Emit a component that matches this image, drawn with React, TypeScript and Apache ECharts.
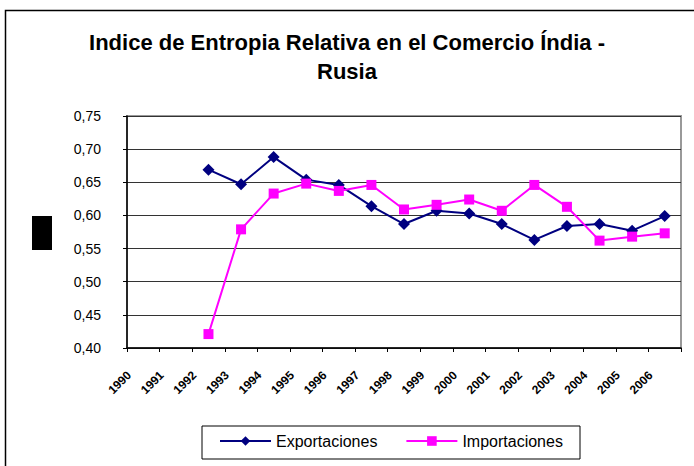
import React, { useEffect, useRef } from "react";
import * as echarts from "echarts";

const years = [
  "1990", "1991", "1992", "1993", "1994", "1995", "1996", "1997", "1998",
  "1999", "2000", "2001", "2002", "2003", "2004", "2005", "2006",
];
const exportaciones = [
  null, null, 0.669, 0.647, 0.688, 0.654, 0.646, 0.614, 0.587, 0.607, 0.603,
  0.587, 0.563, 0.584, 0.587, 0.577, 0.599,
];
const importaciones = [
  null, null, 0.421, 0.579, 0.633, 0.648, 0.637, 0.646, 0.609, 0.616, 0.624,
  0.607, 0.646, 0.613, 0.562, 0.568, 0.573,
];
const titleText = "Indice de Entropia Relativa en el Comercio Índia -\nRusia";
const FONT = "'Liberation Sans', Arial, sans-serif";

export default function App() {
  const ref = useRef<HTMLDivElement>(null);
  useEffect(() => {
    document.body.style.margin = "0";
    if (!ref.current) return;
    const chart = echarts.init(ref.current, null, { renderer: "svg" });
    chart.setOption({
      animation: false,
      backgroundColor: "#ffffff",
      title: {
        text: titleText,
        left: "center",
        top: 23,
        textStyle: {
          fontFamily: FONT,
          fontSize: 22,
          fontWeight: "bold",
          color: "#000",
          lineHeight: 29,
        },
      },
      grid: {
        left: 127,
        top: 116,
        width: 554,
        height: 232,
        show: true,
        borderColor: "#999999",
        borderWidth: 2,
        backgroundColor: "transparent",
      },
      legend: {
        left: 219,
        top: 433,
        padding: 0,
        itemGap: 28,
        itemWidth: 51,
        itemHeight: 12,
        textStyle: { fontFamily: FONT, fontSize: 16, color: "#000" },
        data: ["Exportaciones", "Importaciones"],
      },
      xAxis: {
        type: "category",
        data: years,
        boundaryGap: true,
        axisLine: { lineStyle: { color: "#000", width: 1.5 } },
        axisTick: { show: true, interval: 0, length: 4, lineStyle: { color: "#000" } },
        axisLabel: {
          interval: 0,
          rotate: 45,
          margin: 11,
          padding: [0, 20, 0, 0],
          fontFamily: FONT,
          fontSize: 12,
          fontWeight: "bold",
          color: "#000",
        },
        splitLine: { show: false },
      },
      yAxis: {
        type: "value",
        min: 0.4,
        max: 0.75,
        interval: 0.05,
        axisLine: { show: true, lineStyle: { color: "#000", width: 1.5 } },
        axisTick: { show: true, length: 4, lineStyle: { color: "#000" } },
        axisLabel: {
          margin: 26,
          fontFamily: FONT,
          fontSize: 14,
          color: "#000",
          formatter: (v: number) => v.toFixed(2).replace(".", ","),
        },
        splitLine: { show: true, lineStyle: { color: "#333", width: 1 } },
      },
      graphic: [
        {
          type: "rect",
          shape: { x: 5.5, y: 10.5, width: 700, height: 500 },
          style: { fill: "none", stroke: "#000", lineWidth: 1.5 },
          silent: true,
        },
        {
          type: "rect",
          shape: { x: 32, y: 216, width: 20, height: 34 },
          style: { fill: "#000" },
          silent: true,
        },
        {
          type: "rect",
          shape: { x: 202, y: 426, width: 378, height: 33 },
          style: { fill: "none", stroke: "#000", lineWidth: 1 },
          silent: true,
        },
      ],
      series: [
        {
          name: "Exportaciones",
          type: "line",
          data: exportaciones,
          symbol: "diamond",
          symbolSize: 12,
          showAllSymbol: true,
          lineStyle: { color: "#000080", width: 2 },
          itemStyle: { color: "#000080" },
        },
        {
          name: "Importaciones",
          type: "line",
          data: importaciones,
          symbol: "rect",
          symbolSize: 10,
          showAllSymbol: true,
          lineStyle: { color: "#FF00FF", width: 2 },
          itemStyle: { color: "#FF00FF" },
        },
      ],
    });
    return () => chart.dispose();
  }, []);
  return <div ref={ref} style={{ width: 694, height: 466 }} />;
}
